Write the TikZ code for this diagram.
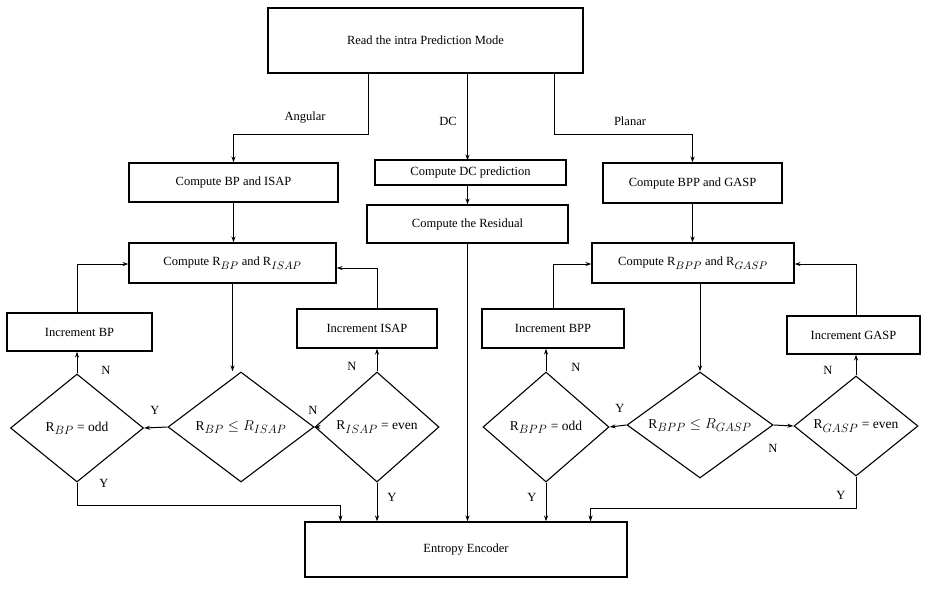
\documentclass[tikz,border=0pt]{standalone}
\usepackage{amsmath}
\usepackage{amssymb}
\usepackage{fontspec}
\setmainfont{Liberation Serif}
\DeclareMathSizes{12.5}{12.5}{10.5}{8}
\DeclareMathSizes{13.5}{13.5}{11.5}{8.5}
\usepackage{tikz}
\usetikzlibrary{positioning,shapes.geometric,arrows.meta}

\begin{document}
\begin{tikzpicture}[x=1pt, y=-1pt, font=\fontsize{12.5}{15}\selectfont,
        procbox/.style={rectangle, draw, line width=1.1pt, inner sep=2pt},
        testbox/.style={diamond, draw, line width=1.1pt, inner sep=0pt, aspect=1.4, font=\fontsize{13.5}{16}\selectfont},
        flow/.style={->, line width=1pt, >={Stealth[length=6pt, width=4pt]}},
        lbl/.style={inner sep=1pt}]
        \useasboundingbox (0,0) rectangle (929,590);
        % boxes
        \node (mode) [procbox, minimum width=315pt, minimum height=65pt] at (425.5,40.5) {Read the intra Prediction Mode};
        \node (cbp) [procbox, minimum width=209pt, minimum height=39pt] at (233.5,182.5) {Compute BP and ISAP};
        \node (cdc) [procbox, minimum width=191pt, minimum height=25pt] at (470.5,172.5) {Compute DC prediction};
        \node (cres) [procbox, minimum width=201pt, minimum height=38pt] at (467.5,224) {Compute the Residual};
        \node (cbpp) [procbox, minimum width=179pt, minimum height=40pt] at (692.5,183) {Compute BPP and GASP};
        \node (rbp) [procbox, minimum width=207pt, minimum height=40pt] at (232.5,263) {Compute R$_{BP}$ and R$_{ISAP}$};
        \node (rbpp) [procbox, minimum width=202pt, minimum height=40pt] at (693,263) {Compute R$_{BPP}$ and R$_{GASP}$};
        \node (incbp) [procbox, minimum width=145pt, minimum height=38pt] at (79.5,332) {Increment BP};
        \node (incisap) [procbox, minimum width=140pt, minimum height=39pt] at (367,328.5) {Increment ISAP};
        \node (incbpp) [procbox, minimum width=142pt, minimum height=39pt] at (553,328.5) {Increment BPP};
        \node (incgasp) [procbox, minimum width=133pt, minimum height=38pt] at (853.5,335) {Increment GASP};
        \node (entropy) [procbox, minimum width=322pt, minimum height=55pt] at (466,549.5) {Entropy Encoder};

        % decisions
        \node (oddbp) [testbox, minimum width=133pt, minimum height=108pt] at (77,428) {R$_{BP}$ = odd};
        \node (cmpa) [testbox, minimum width=146pt, minimum height=110pt] at (241,427) {R$_{BP} \leq R_{ISAP}$};
        \node (evenisap) [testbox, minimum width=124pt, minimum height=110pt] at (377,427) {R$_{ISAP}$ = even};
        \node (oddbpp) [testbox, minimum width=126pt, minimum height=110pt] at (546,427) {R$_{BPP}$ = odd};
        \node (cmpp) [testbox, minimum width=146pt, minimum height=106pt] at (700,425) {R$_{BPP} \leq R_{GASP}$};
        \node (evengasp) [testbox, minimum width=124pt, minimum height=100pt] at (856,426) {R$_{GASP}$ = even};

        % mode branches
        \draw[flow] ([xshift=-57pt]mode.south) -- ++(0,61) -| (cbp.north);
        \draw[flow] ([xshift=42pt]mode.south) -- ++(0,87);
        \draw[flow] ([xshift=129pt]mode.south) -- ++(0,61) -| (cbpp.north);
        \node[lbl] at (305,118) {Angular};
        \node[lbl] at (448,121) {DC};
        \node[lbl] at (630,121) {Planar};
        \draw[flow] (cdc.south -| cres.north) -- (cres.north);
        \draw[flow] (cbp.south) -- (cbp.south |- rbp.north);
        \draw[flow] (cbpp.south) -- (cbpp.south |- rbpp.north);

        % angular loop
        \draw[flow] (rbp.south) -- (rbp.south |- cmpa.north);
        \draw[flow] (cmpa.west) -- (oddbp.east);
        \draw[flow] (cmpa.east) -- (evenisap.west);
        \draw[flow] (oddbp.north) -- (oddbp.north |- incbp.south);
        \draw[flow] (incbp.north -| oddbp.north) |- ([yshift=-1pt]rbp.west);
        \draw[flow] (evenisap.north) -- (evenisap.north |- incisap.south);
        \draw[flow] (incisap.north -| evenisap.north) |- ([yshift=-5pt]rbp.east);
        \node[lbl] at (155,410) {Y};
        \node[lbl] at (313,410) {N};
        \node[lbl] at (106,370) {N};
        \node[lbl] at (352,366) {N};

        % planar loop
        \draw[flow] (rbpp.south -| cmpp.north) -- (cmpp.north);
        \draw[flow] (cmpp.west) -- (oddbpp.east);
        \draw[flow] (cmpp.east) -- (evengasp.west);
        \draw[flow] (oddbpp.north) -- (oddbpp.north |- incbpp.south);
        \draw[flow] (incbpp.north) |- ([yshift=-1pt]rbpp.west);
        \draw[flow] (evengasp.north) -- (evengasp.north |- incgasp.south);
        \draw[flow] (incgasp.north -| evengasp.north) |- ([yshift=-1pt]rbpp.east);
        \node[lbl] at (620,408) {Y};
        \node[lbl] at (773,448) {N};
        \node[lbl] at (576,367) {N};
        \node[lbl] at (828,370) {N};

        % to entropy encoder
        \draw[flow] (oddbp.south) -- ++(0,23) -| ([xshift=36pt]entropy.north west);
        \draw[flow] (evenisap.south) -- (evenisap.south |- entropy.north);
        \draw[flow] (cres.south) -- (cres.south |- entropy.north);
        \draw[flow] (oddbpp.south) -- (oddbpp.south |- entropy.north);
        \draw[flow] (evengasp.south) -- ++(0,32) -| ([xshift=-37pt]entropy.north east);
        \node[lbl] at (104,483) {Y};
        \node[lbl] at (392,497) {Y};
        \node[lbl] at (532,497) {Y};
        \node[lbl] at (841,495) {Y};
\end{tikzpicture}
\end{document}
